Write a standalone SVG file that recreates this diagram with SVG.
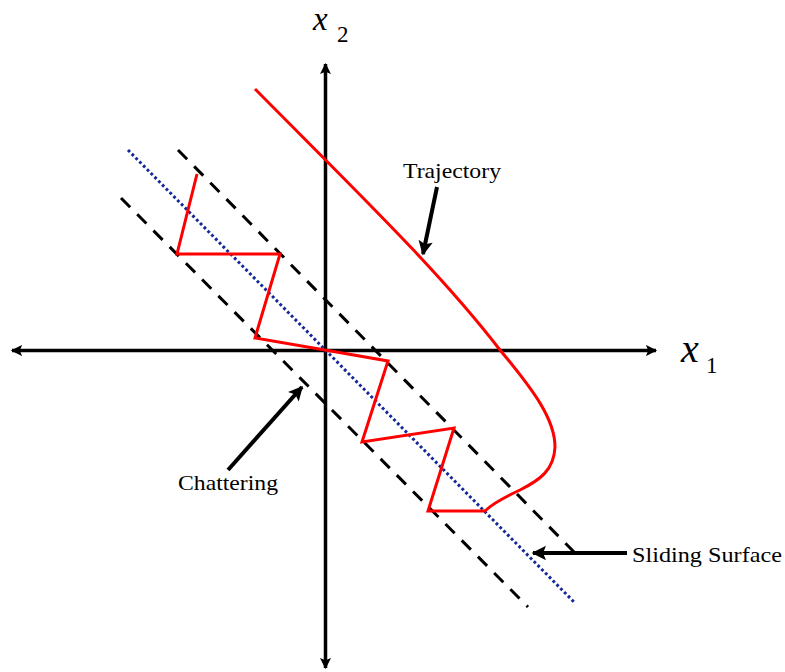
<svg xmlns="http://www.w3.org/2000/svg" width="785" height="672" viewBox="0 0 785 672">
<defs>
<style>
.axis{stroke:#000;stroke-width:3.5;fill:none}
.dash{stroke:#000;stroke-width:3;stroke-dasharray:13 10;fill:none}
.dot{stroke:#14289a;stroke-width:3;stroke-dasharray:2.8 2.6;fill:none}
.red{stroke:#f00;stroke-width:3;fill:none;stroke-linejoin:miter}
.ptr{stroke:#000;stroke-width:4;fill:none}
.lbl{font-size:22px;fill:#000}
.var{font-style:italic;fill:#000}
.sub{fill:#000}
</style>
<marker id="ah" viewBox="0 0 10 10" refX="9" refY="5" markerWidth="3.6" markerHeight="3.2" orient="auto" markerUnits="strokeWidth">
<path d="M0,0 L10,5 L0,10 L2,5 Z" fill="#000"/>
</marker>
<marker id="ap" viewBox="0 0 10 10" refX="9" refY="5" markerWidth="4" markerHeight="3.6" orient="auto" markerUnits="strokeWidth">
<path d="M0,0 L10,5 L0,10 L2,5 Z" fill="#000"/>
</marker>
</defs>
<g id="axes">
<line id="x1-axis-left" class="axis" x1="325" y1="350.5" x2="12" y2="350.5" marker-end="url(#ah)"/>
<line id="x1-axis-right" class="axis" x1="325" y1="350.5" x2="656" y2="350.5" marker-end="url(#ah)"/>
<line id="x2-axis-up" class="axis" x1="325.5" y1="350" x2="325.5" y2="64" marker-end="url(#ah)"/>
<line id="x2-axis-down" class="axis" x1="325.5" y1="350" x2="325.5" y2="668" marker-end="url(#ah)"/>
</g>
<g id="boundary-upper"><line class="dash" x1="178" y1="150" x2="578" y2="556"/></g>
<g id="boundary-lower"><line class="dash" x1="121" y1="198" x2="528" y2="607"/></g>
<g id="sliding-surface"><line class="dot" x1="128" y1="150" x2="574" y2="602"/></g>
<g id="trajectory">
<path class="red" d="M255,89 C360,195 440,272 500,350 C535,392 555,420 555,447 C554,470 540,480 520,490 C505,497 493,503 485,511 L428,511 L454,428 L362,442 L388,361 L325,350 L255,338 L280,254 L177,254 L197,174"/>
</g>
<g id="connectors">
<line class="ptr" x1="437" y1="187" x2="423" y2="254" marker-end="url(#ap)"/>
<line class="ptr" x1="228" y1="470" x2="302" y2="387" marker-end="url(#ap)"/>
<line class="ptr" x1="627" y1="553" x2="533" y2="553" marker-end="url(#ap)"/>
</g>
<g id="label-x2" font-family="'Liberation Serif', serif"><text class="var" x="313" y="30" font-size="33">x</text><text class="sub" x="337" y="42" font-size="23">2</text></g>
<g id="label-x1" font-family="'Liberation Serif', serif"><text class="var" x="681" y="362" font-size="40">x</text><text class="sub" x="706" y="373" font-size="23">1</text></g>
<g id="label-trajectory" font-family="'Liberation Serif', serif"><text class="lbl" x="403" y="178" textLength="98" lengthAdjust="spacingAndGlyphs">Trajectory</text></g>
<g id="label-chattering" font-family="'Liberation Serif', serif"><text class="lbl" x="178" y="490" textLength="100" lengthAdjust="spacingAndGlyphs">Chattering</text></g>
<g id="label-sliding" font-family="'Liberation Serif', serif"><text class="lbl" x="632" y="562" textLength="150" lengthAdjust="spacingAndGlyphs">Sliding Surface</text></g>
</svg>
